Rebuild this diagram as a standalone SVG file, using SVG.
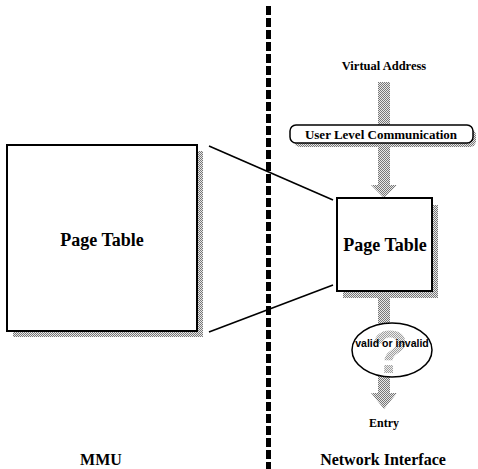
<svg xmlns="http://www.w3.org/2000/svg" width="478" height="469" viewBox="0 0 478 469">
<defs>
<pattern id="dither" width="2" height="2" patternUnits="userSpaceOnUse">
<rect width="2" height="2" fill="#e8e8e8"/>
<rect x="0" y="0" width="1" height="1" fill="#777"/>
<rect x="1" y="1" width="1" height="1" fill="#777"/>
</pattern>
</defs>
<style>
.box{fill:#fff;stroke:#000;stroke-width:2}
.shadow{fill:url(#dither)}
.arrow{fill:url(#dither)}
.serif{font-family:"Liberation Serif","Times New Roman",serif;font-weight:bold;fill:#000;text-anchor:middle}
.sans{font-family:"Liberation Sans",Arial,sans-serif;font-weight:bold;fill:#000;text-anchor:middle}
.conn{stroke:#000;stroke-width:1.6;fill:none}
</style>
<rect width="478" height="469" fill="#fff"/>

<g id="divider">
<line x1="268.5" y1="6" x2="268.5" y2="469" stroke="#000" stroke-width="5" stroke-dasharray="9 3"/>
</g>

<g id="connectors">
<line class="conn" x1="209" y1="146" x2="333" y2="200"/>
<line class="conn" x1="209" y1="332" x2="333" y2="285"/>
<rect class="arrow" x="378" y="82" width="12" height="44"/>
<polygon class="arrow" points="378,143 390,143 390,185 397,185 384,198 371,185 378,185"/>
<rect class="arrow" x="378" y="291" width="12" height="34"/>
<polygon class="arrow" points="378,376 390,376 390,393 397,393 384,409 371,393 378,393"/>
</g>

<g id="mmu-page-table">
<rect class="shadow" x="13" y="151" width="190" height="186"/>
<rect class="box" x="7" y="145" width="190" height="186"/>
<text class="serif" x="102" y="246" font-size="18">Page Table</text>
</g>

<g id="virtual-address">
<text class="serif" x="384" y="70" font-size="12.5">Virtual Address</text>
</g>

<g id="user-level-communication">
<rect class="shadow" x="294" y="129" width="182" height="18" rx="6"/>
<rect x="290" y="125" width="183" height="18" rx="6" fill="#fff" stroke="#000" stroke-width="1.5"/>
<text class="serif" x="381" y="139" font-size="13">User Level Communication</text>
</g>

<g id="ni-page-table">
<rect class="shadow" x="343" y="205" width="95" height="93"/>
<rect class="box" x="337" y="198" width="95" height="93"/>
<text class="serif" x="385" y="251" font-size="18">Page Table</text>
</g>

<g id="valid-or-invalid">
<ellipse cx="392" cy="350" rx="40" ry="27" fill="#fff" stroke="#000" stroke-width="1.5"/>
<text x="390" y="373" font-family="'Liberation Sans',Arial,sans-serif" font-weight="bold" font-size="62" fill="url(#dither)" text-anchor="middle" opacity="0.7">?</text>
<text class="sans" x="392" y="347" font-size="10.5">valid or invalid</text>
</g>

<g id="entry">
<text class="serif" x="384" y="427" font-size="12">Entry</text>
</g>

<g id="labels">
<text class="serif" x="101" y="465" font-size="16">MMU</text>
<text class="serif" x="383" y="465" font-size="16">Network Interface</text>
</g>
</svg>
